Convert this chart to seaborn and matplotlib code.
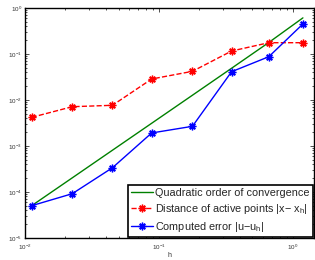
import numpy as np
import pandas as pd
import matplotlib
matplotlib.use("Agg")
import matplotlib.pyplot as plt
import seaborn as sns

# values
h = [0.01122, 0.02254, 0.0450, 0.0883, 0.178, 0.349, 0.662, 1.19]
quadratic = [5.04e-5, 2.03e-4, 8.1e-4, 3.12e-3, 1.27e-2, 4.9e-2, 0.178, 0.61]
dist_active = [4.2e-3, 7.15e-3, 7.67e-3, 2.86e-2, 4.2e-2, 0.116, 0.176, 0.176]
comp_error = [5.04e-5, 9.18e-5, 3.37e-4, 1.92e-3, 2.68e-3, 4.12e-2, 8.73e-2, 0.449]

labels = ["Quadratic order of convergence",
          r"Distance of active points |x$-$ x$_\mathregular{h}$|",
          r"Computed error |u$-$u$_\mathregular{h}$|"]

sns.set_style("ticks")
plt.rcParams["font.family"] = ["Liberation Sans", "DejaVu Sans"]
plt.rcParams["mathtext.fontset"] = "custom"
plt.rcParams["mathtext.rm"] = "Liberation Sans"
plt.rcParams["mathtext.it"] = "Liberation Sans"

fig = plt.figure(figsize=(3.15, 2.6), dpi=100)
ax = fig.add_axes([25 / 315, 1 - 238 / 260, 289 / 315, 230 / 260])

star = (8, 2, 0)  # asterisk like the matlab '*'
sns.lineplot(x=h, y=quadratic, ax=ax, color="#008000", lw=1.0, label=labels[0])
sns.lineplot(x=h, y=dist_active, ax=ax, color="red", lw=1.0, linestyle="--",
             label=labels[1])
sns.lineplot(x=h, y=comp_error, ax=ax, color="blue", lw=1.0, label=labels[2])

# seaborn swaps the marker, so set it on the lines afterwards
for line, c in zip(ax.lines[1:3], ["red", "blue"]):
    line.set_marker(star)
    line.set_markersize(5.5)
    line.set_markeredgewidth(1.0)
    line.set_markeredgecolor(c)
    line.set_markerfacecolor(c)

ax.set_xscale("log")
ax.set_yscale("log")
ax.set_xlim(0.01, 1.44)
ax.set_ylim(1e-5, 1)
ax.set_yticks([1e-5, 1e-4, 1e-3, 1e-2, 1e-1, 1])
ax.set_xticks([1e-2, 1e-1, 1])

ax.tick_params(which="both", direction="in", top=True, right=True,
               labelsize=4.5, width=0.6, colors="#333333", labelcolor="#333333")
ax.tick_params(which="major", length=3)
ax.tick_params(which="minor", length=1.6)
ax.tick_params(axis="x", pad=3.5)
ax.tick_params(axis="y", pad=2)
for s in ax.spines.values():
    s.set_linewidth(1.0)
    s.set_color("black")

ax.set_xlabel("h", fontsize=5, labelpad=0, color="#333333")
ax.set_ylabel("")

leg = ax.legend(loc="lower right", fontsize=7.8, frameon=True, fancybox=False,
                edgecolor="black", framealpha=1, borderaxespad=0.1, borderpad=0.3,
                labelspacing=0.35, handlelength=2.0, handletextpad=0.2)
leg.get_frame().set_linewidth(1.2)

fig.savefig("out.png", dpi=100)
